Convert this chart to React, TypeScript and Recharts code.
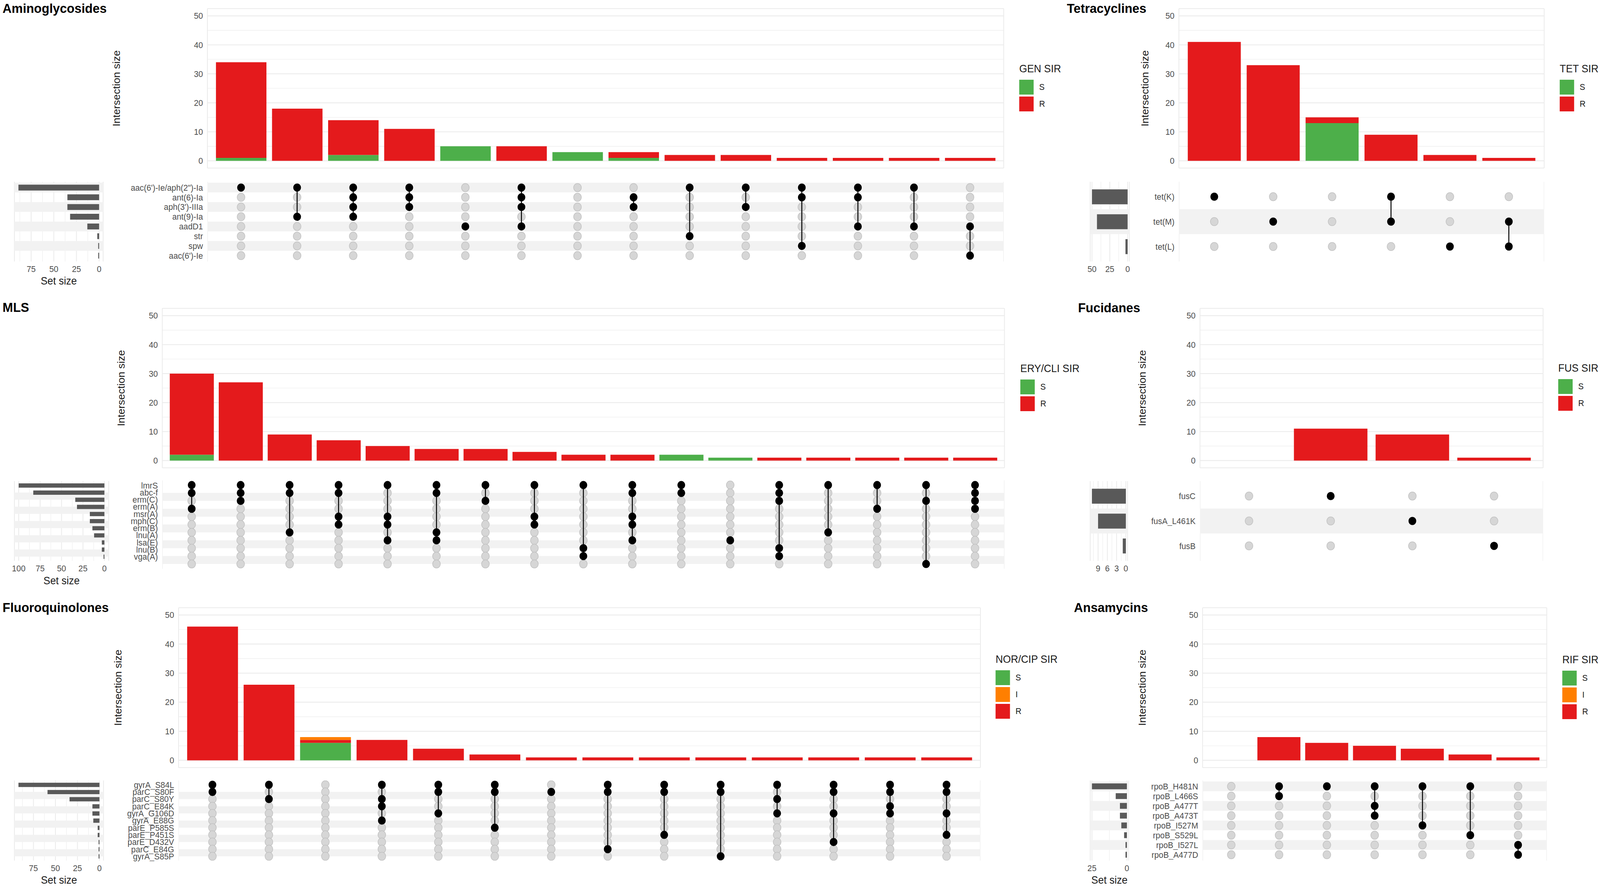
import React from "react";
import {
  BarChart,
  Bar,
  ScatterChart,
  Scatter,
  XAxis,
  YAxis,
  CartesianGrid,
  ReferenceArea,
} from "recharts";

const RED = "#E41A1C";
const GREEN = "#4DAF4A";
const ORANGE = "#FF7F00";
const GRID = "#EBEBEB";
const STRIPE = "#F2F2F2";
const TICK = "#4D4D4D";
const INK = "#1A1A1A";
const SET_BAR = "#595959";
const FONT = "'Liberation Sans', Arial, Helvetica, sans-serif";
const DOT_R = 10.5;
const PAGE_W = 4328;
const PAGE_H = 2267;

// ---- Aminoglycosides ----
const aminoSets = ["aac(6')-Ie/aph(2\")-Ia", "ant(6)-Ia", "aph(3')-IIIa", "ant(9)-Ia", "aadD1", "str", "spw", "aac(6')-Ie"];
const aminoSetSize = [89, 35, 35, 32, 13, 2, 1, 1];
const aminoSetTicks = [0, 25, 50, 75];
const aminoS = [1, 0, 2, 0, 5, 0, 3, 1, 0, 0, 0, 0, 0, 0];
const aminoR = [33, 18, 12, 11, 0, 5, 0, 2, 2, 2, 1, 1, 1, 1];
const aminoMembers = [[0], [0, 3], [0, 1, 2, 3], [0, 1, 2], [4], [0, 1, 2, 4], [], [1, 2], [0, 5], [0, 2], [0, 1, 6], [0, 1, 4], [0, 4], [4, 7]];

// ---- Tetracyclines ----
const tetSets = ["tet(K)", "tet(M)", "tet(L)"];
const tetSetSize = [50, 43, 3];
const tetSetTicks = [0, 25, 50];
const tetS = [0, 0, 13, 0, 0, 0];
const tetR = [41, 33, 2, 9, 2, 1];
const tetMembers = [[0], [1], [], [0, 1], [2], [1, 2]];

// ---- MLS ----
const mlsSets = ["lmrS", "abc-f", "erm(C)", "erm(A)", "msr(A)", "mph(C)", "erm(B)", "lnu(A)", "lsa(E)", "lnu(B)", "vga(A)"];
const mlsSetSize = [100, 83, 34, 32, 17, 17, 14, 12, 3, 3, 1];
const mlsSetTicks = [0, 25, 50, 75, 100];
const mlsS = [2, 0, 0, 0, 0, 0, 0, 0, 0, 0, 2, 1, 0, 0, 0, 0, 0];
const mlsR = [28, 27, 9, 7, 5, 4, 4, 3, 2, 2, 0, 0, 1, 1, 1, 1, 1];
const mlsMembers = [[0, 1, 3], [0, 1, 2], [0, 1, 6], [0, 1, 4, 5], [0, 4, 5, 7], [0, 1, 6, 7], [0, 2], [0, 4, 5], [0, 8, 9], [0, 1, 4, 5, 7], [0, 1], [7], [0, 1, 2, 8, 9], [0, 6], [0, 3], [0, 2, 10], [0, 1, 2, 3]];

// ---- Fucidanes ----
const fusSets = ["fusC", "fusA_L461K", "fusB"];
const fusSetSize = [11, 9, 1];
const fusSetTicks = [0, 3, 6, 9];
const fusS = [0, 0, 0, 0];
const fusR = [0, 11, 9, 1];
const fusMembers = [[], [0], [1], [2]];

// ---- Fluoroquinolones ----
const fqSets = ["gyrA_S84L", "parC_S80F", "parC_S80Y", "parC_E84K", "gyrA_G106D", "gyrA_E88G", "parE_P585S", "parE_P451S", "parE_D432V", "parC_E84G", "gyrA_S85P"];
const fqSetSize = [92, 59, 34, 8, 8, 7, 2, 2, 1, 1, 1];
const fqSetTicks = [0, 25, 50, 75];
const fqS = [0, 0, 6, 0, 0, 0, 0, 0, 0, 0, 0, 0, 0, 0];
const fqI = [0, 0, 1, 0, 0, 0, 0, 0, 0, 0, 0, 0, 0, 0];
const fqR = [46, 26, 1, 7, 4, 2, 1, 1, 1, 1, 1, 1, 1, 1];
const fqMembers = [[0, 1], [0, 2], [], [0, 2, 3, 5], [0, 1, 4], [0, 1, 6], [1], [0, 1, 9], [0, 1, 7], [0, 1, 10], [0, 2, 4], [0, 1, 4, 8], [0, 1, 3, 4], [0, 1, 4, 7]];

// ---- Ansamycins ----
const rifSets = ["rpoB_H481N", "rpoB_L466S", "rpoB_A477T", "rpoB_A473T", "rpoB_I527M", "rpoB_S529L", "rpoB_I527L", "rpoB_A477D"];
const rifSetSize = [25, 8, 5, 5, 4, 2, 1, 1];
const rifSetTicks = [0, 25];
const rifS = [0, 0, 0, 0, 0, 0, 0];
const rifI = [0, 0, 0, 0, 0, 0, 0];
const rifR = [0, 8, 6, 5, 4, 2, 1];
const rifMembers = [[], [0, 1], [0], [0, 2, 3], [0, 4], [0, 5], [6, 7]];

const intersectionTicks = [0, 10, 20, 30, 40, 50];
const intersectionMinor = [5, 15, 25, 35, 45];

const panels: any[] = [
  { key: "amino", title: "Aminoglycosides", sets: aminoSets, setSize: aminoSetSize, setTicks: aminoSetTicks, S: aminoS, R: aminoR, members: aminoMembers, legendTitle: "GEN SIR", legendKeys: ["S", "R"] },
  { key: "tet", title: "Tetracyclines", sets: tetSets, setSize: tetSetSize, setTicks: tetSetTicks, S: tetS, R: tetR, members: tetMembers, legendTitle: "TET SIR", legendKeys: ["S", "R"] },
  { key: "mls", title: "MLS", sets: mlsSets, setSize: mlsSetSize, setTicks: mlsSetTicks, S: mlsS, R: mlsR, members: mlsMembers, legendTitle: "ERY/CLI SIR", legendKeys: ["S", "R"] },
  { key: "fus", title: "Fucidanes", sets: fusSets, setSize: fusSetSize, setTicks: fusSetTicks, S: fusS, R: fusR, members: fusMembers, legendTitle: "FUS SIR", legendKeys: ["S", "R"] },
  { key: "fq", title: "Fluoroquinolones", sets: fqSets, setSize: fqSetSize, setTicks: fqSetTicks, S: fqS, I: fqI, R: fqR, members: fqMembers, legendTitle: "NOR/CIP SIR", legendKeys: ["S", "I", "R"] },
  { key: "rif", title: "Ansamycins", sets: rifSets, setSize: rifSetSize, setTicks: rifSetTicks, S: rifS, I: rifI, R: rifR, members: rifMembers, legendTitle: "RIF SIR", legendKeys: ["S", "I", "R"] },
];

// page layout (pixels of the 4328x2267 figure)
const layout: any = {
  amino: { title: [7, 21], plotX: [561, 2715], barY: [21.5, 429.5], yTitleX: 315, matY: [465, 669], setX: [39, 279], setY: [465, 669], setTitleY: 718, legend: [2757, 176], stripeShift: 0 },
  tet: { title: [2886, 21], plotX: [3189, 4177], barY: [21.5, 429.5], yTitleX: 3097, matY: [465, 669], setX: [2949, 3055], setY: [465, 669], setTitleY: null, legend: [4219, 176], stripeShift: 0 },
  mls: { title: [7, 786], plotX: [439, 2717], barY: [788.5, 1196.5], yTitleX: 328, matY: [1229.4, 1455.6], setX: [39, 294], setY: [1230.6, 1434.7], setTitleY: 1485, legend: [2760, 943], stripeShift: 0.5 },
  fus: { title: [2916, 787], plotX: [3246, 4174], barY: [788.5, 1196.5], yTitleX: 3090, matY: [1231, 1435], setX: [2949, 3050], setY: [1231, 1435], setTitleY: null, legend: [4215, 942], stripeShift: 0 },
  fq: { title: [7, 1554], plotX: [483, 2652], barY: [1554.5, 1963.5], yTitleX: 319, matY: [1997, 2202], setX: [39, 280], setY: [1997, 2202], setTitleY: 2251, legend: [2693, 1687], stripeShift: 0.5 },
  rif: { title: [2905, 1554], plotX: [3253, 4184], barY: [1554.5, 1963.5], yTitleX: 3090, matY: [1997, 2202], setX: [2949, 3053], setY: [1997, 2202], setTitleY: 2251, legend: [4226, 1688], stripeShift: 0 },
};

const KEY_FILL: any = { S: GREEN, I: ORANGE, R: RED };

const range = (n: number) => Array.from({ length: n }, (_, i) => i);

function minorTicks(ticks: number[], max: number) {
  const out: number[] = [];
  for (let i = 1; i < ticks.length; i++) out.push((ticks[i - 1] + ticks[i]) / 2);
  const step = ticks[1] - ticks[0];
  const next = ticks[ticks.length - 1] + step / 2;
  if (next <= max) out.push(next);
  return out;
}

// rows that get the grey95 band (alternating, counted from the bottom)
function stripeRows(m: number) {
  return range(m).filter((r) => (m - 1 - r) % 2 === 1);
}

const GrayDot = (props: any) => (
  <circle cx={props.cx} cy={props.cy} r={DOT_R} fill="#D6D6D6" stroke="#C2C2C2" strokeWidth={1.5} />
);
const BlackDot = (props: any) => <circle cx={props.cx} cy={props.cy} r={DOT_R} fill="#000" />;

function IntersectionBars({ p, l }: any) {
  const n = p.R.length;
  const rows = p.R.map((r: number, i: number) => ({ x: i, S: p.S[i], R: r, I: p.I ? p.I[i] : 0 }));
  const [pl, pr] = l.plotX;
  const [bt, bb] = l.barY;
  const yw = 2 * (pl - l.yTitleX);
  const pad = 4;
  const barSize = (0.9 * (pr - pl)) / (n + 0.2);
  return (
    <div style={{ position: "absolute", left: pl - yw, top: bt - pad }}>
      <BarChart
        width={yw + pr - pl + pad}
        height={bb - bt + 2 * pad}
        data={rows}
        margin={{ top: pad, right: pad, bottom: pad, left: 0 }}
      >
        <CartesianGrid stroke={GRID} strokeWidth={1.1} vertical={false} horizontalValues={intersectionMinor} />
        <CartesianGrid stroke={GRID} strokeWidth={2.2} />
        <XAxis dataKey="x" type="number" domain={[-0.6, n - 0.4]} ticks={range(n)} height={0} tick={false} tickLine={false} axisLine={false} />
        <YAxis
          type="number"
          domain={[-2.5, 52.5]}
          ticks={intersectionTicks}
          width={yw}
          tickSize={0}
          tickMargin={12}
          tickLine={false}
          axisLine={false}
          interval={0}
          tick={{ fontSize: 22, fill: TICK }}
          label={{ value: "Intersection size", angle: -90, position: "center", fontSize: 27, fill: INK }}
        />
        <Bar dataKey="S" stackId="sir" fill={GREEN} barSize={barSize} isAnimationActive={false} />
        <Bar dataKey="R" stackId="sir" fill={RED} barSize={barSize} isAnimationActive={false} />
        {p.I && <Bar dataKey="I" stackId="sir" fill={ORANGE} barSize={barSize} isAnimationActive={false} />}
      </BarChart>
    </div>
  );
}

function Matrix({ p, l }: any) {
  const n = p.members.length;
  const m = p.sets.length;
  const [pl, pr] = l.plotX;
  const [mt, mb] = l.matY;
  const off: any[] = [];
  p.members.forEach((mem: number[], c: number) =>
    range(m).forEach((r) => {
      if (!mem.includes(r)) off.push({ x: c, y: r });
    })
  );
  return (
    <div style={{ position: "absolute", left: pl, top: mt }}>
      <ScatterChart width={pr - pl} height={mb - mt} margin={{ top: 0, right: 0, bottom: 0, left: 0 }}>
        <CartesianGrid stroke={GRID} strokeWidth={2.2} horizontal={false} />
        {stripeRows(m).map((r) => (
          <ReferenceArea key={r} y1={r - 0.5 + l.stripeShift} y2={r + 0.5 + l.stripeShift} fill={STRIPE} fillOpacity={1} stroke="none" />
        ))}
        <XAxis dataKey="x" type="number" domain={[-0.6, n - 0.4]} ticks={range(n)} height={0} tick={false} tickLine={false} axisLine={false} />
        <YAxis dataKey="y" type="number" domain={[-0.6, m - 0.4]} reversed hide />
        <Scatter data={off} shape={GrayDot} isAnimationActive={false} />
        {p.members.map((mem: number[], c: number) =>
          mem.length ? (
            <Scatter
              key={c}
              data={mem.map((r) => ({ x: c, y: r }))}
              shape={BlackDot}
              line={mem.length > 1 ? { stroke: "#000", strokeWidth: 2.6 } : false}
              isAnimationActive={false}
            />
          ) : null
        )}
      </ScatterChart>
    </div>
  );
}

function SetLabel({ x, y, payload, shift, names }: any) {
  return (
    <text x={x + shift} y={y} dy="0.355em" textAnchor="end" fontSize={22} fill={TICK} fontFamily={FONT}>
      {names[payload.value]}
    </text>
  );
}

function SetSizes({ p, l }: any) {
  const m = p.sets.length;
  const max = Math.max(...p.setSize);
  const rows = p.setSize.map((v: number, i: number) => ({ row: i, size: v }));
  const [sl, sr] = l.setX;
  const [st, sb] = l.setY;
  const labelRight = l.plotX[0] - 12;
  const yw = labelRight - sr + 10;
  const xh = l.setTitleY ? 2 * (l.setTitleY - sb) : 50;
  const barSize = (0.6 * (sb - st)) / (m + 0.2);
  const dom = [-0.05 * max, 1.05 * max];
  const lm = 30;
  return (
    <div style={{ position: "absolute", left: sl - lm, top: st }}>
      <BarChart
        layout="vertical"
        width={lm + sr - sl + yw}
        height={sb - st + xh}
        data={rows}
        margin={{ top: 0, right: 0, bottom: 0, left: lm }}
      >
        <CartesianGrid stroke={GRID} strokeWidth={1.1} horizontal={false} verticalValues={minorTicks(p.setTicks, dom[1])} />
        <CartesianGrid stroke={GRID} strokeWidth={2.2} horizontal={false} />
        {stripeRows(m).map((r) => (
          <ReferenceArea key={r} y1={r - 0.5 + l.stripeShift} y2={r + 0.5 + l.stripeShift} fill={STRIPE} fillOpacity={1} stroke="none" />
        ))}
        <XAxis
          type="number"
          dataKey="size"
          domain={dom}
          ticks={p.setTicks}
          reversed
          height={xh}
          tickSize={0}
          tickMargin={11}
          tickLine={false}
          axisLine={false}
          interval={0}
          tick={{ fontSize: 22, fill: TICK }}
          label={l.setTitleY ? { value: "Set size", position: "center", fontSize: 27.5, fill: INK } : undefined}
        />
        <YAxis
          type="number"
          dataKey="row"
          domain={[-0.6, m - 0.4]}
          ticks={range(m)}
          orientation="right"
          width={yw}
          tickSize={0}
          tickMargin={0}
          tickLine={false}
          axisLine={false}
          interval={0}
          tick={(props: any) => <SetLabel {...props} shift={labelRight - sr} names={p.sets} />}
        />
        <Bar dataKey="size" fill={SET_BAR} barSize={barSize} isAnimationActive={false} />
      </BarChart>
    </div>
  );
}

function SirLegend({ title, keys, x, y }: any) {
  return (
    <div style={{ position: "absolute", left: x, top: y - 16, whiteSpace: "nowrap" }}>
      <div style={{ fontSize: 27.5, lineHeight: "32px", color: INK }}>{title}</div>
      <div style={{ marginTop: 12 }}>
        {keys.map((k: string) => (
          <div key={k} style={{ display: "flex", alignItems: "flex-start", height: 43 }}>
            <div style={{ width: 39, height: 38, background: KEY_FILL[k] }} />
            <span style={{ marginLeft: 15, fontSize: 22, lineHeight: "38px", color: INK }}>{k}</span>
          </div>
        ))}
      </div>
    </div>
  );
}

export default function App() {
  // the figure is laid out at 4328x2267; fit it to whatever viewport we get
  const vw = typeof window !== "undefined" ? window.innerWidth : PAGE_W;
  const vh = typeof window !== "undefined" ? window.innerHeight : PAGE_H;
  const sx = Math.min(1, vw / PAGE_W);
  const sy = Math.min(1, vh / PAGE_H);
  return (
    <div
      style={{
        position: "absolute",
        left: 0,
        top: 0,
        width: PAGE_W,
        height: PAGE_H,
        background: "#fff",
        fontFamily: FONT,
        overflow: "hidden",
        transform: `scale(${sx}, ${sy})`,
        transformOrigin: "0 0",
      }}
    >
      {panels.map((p) => {
        const l = layout[p.key];
        return (
          <React.Fragment key={p.key}>
            <div
              style={{
                position: "absolute",
                left: l.title[0],
                top: l.title[1] - 20,
                fontSize: 34,
                fontWeight: 700,
                lineHeight: "40px",
                color: "#000",
                whiteSpace: "nowrap",
              }}
            >
              {p.title}
            </div>
            <IntersectionBars p={p} l={l} />
            <SetSizes p={p} l={l} />
            <Matrix p={p} l={l} />
            <SirLegend title={p.legendTitle} keys={p.legendKeys} x={l.legend[0]} y={l.legend[1]} />
          </React.Fragment>
        );
      })}
    </div>
  );
}
